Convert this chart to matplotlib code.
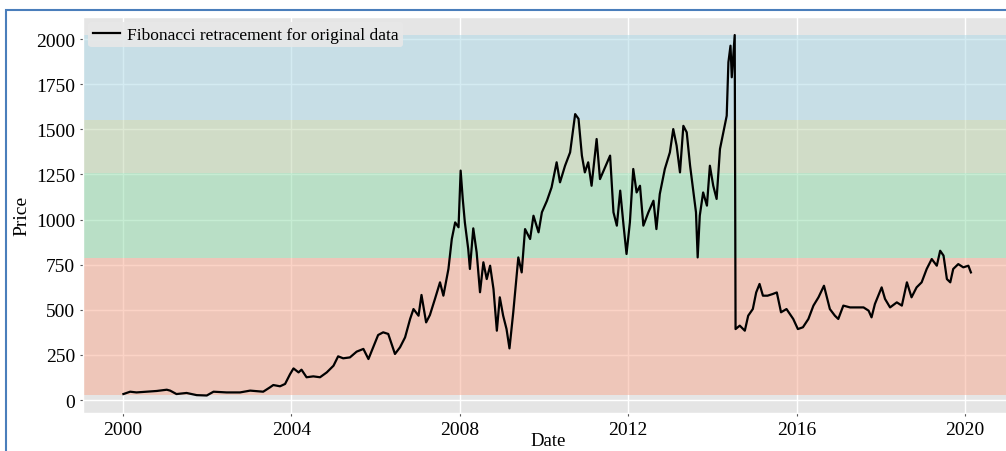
import matplotlib
matplotlib.use("Agg")
import matplotlib.pyplot as plt
from matplotlib.patches import Rectangle

# price (decimal year, price)
years = [
    2000.01, 2000.17, 2000.32, 2000.56, 2000.80, 2001.04, 2001.12, 2001.27, 2001.51, 2001.75,
    2001.99, 2002.15, 2002.46, 2002.78, 2003.02, 2003.33, 2003.49, 2003.57, 2003.73, 2003.85,
    2003.97, 2004.05, 2004.17, 2004.24, 2004.36, 2004.52, 2004.68, 2004.84, 2005.00, 2005.11,
    2005.23, 2005.39, 2005.55, 2005.71, 2005.83, 2005.95, 2006.06, 2006.18, 2006.30, 2006.46,
    2006.58, 2006.70, 2006.82, 2006.90, 2007.02, 2007.09, 2007.20, 2007.29, 2007.41, 2007.53,
    2007.61, 2007.73, 2007.81, 2007.89, 2007.97, 2008.02, 2008.07, 2008.12, 2008.20, 2008.24,
    2008.32, 2008.40, 2008.48, 2008.56, 2008.64, 2008.72, 2008.80, 2008.88, 2008.95, 2009.03,
    2009.11, 2009.18, 2009.27, 2009.39, 2009.47, 2009.55, 2009.67, 2009.75, 2009.87, 2009.95,
    2010.07, 2010.18, 2010.30, 2010.38, 2010.50, 2010.62, 2010.74, 2010.82, 2010.90, 2010.97,
    2011.05, 2011.13, 2011.25, 2011.33, 2011.45, 2011.57, 2011.65, 2011.73, 2011.81, 2011.89,
    2011.96, 2012.04, 2012.12, 2012.20, 2012.28, 2012.36, 2012.48, 2012.60, 2012.67, 2012.75,
    2012.87, 2012.99, 2013.07, 2013.15, 2013.23, 2013.31, 2013.39, 2013.47, 2013.55, 2013.61,
    2013.65, 2013.70, 2013.78, 2013.87, 2013.94, 2014.02, 2014.10, 2014.18, 2014.26, 2014.34,
    2014.38, 2014.43, 2014.46, 2014.50, 2014.53, 2014.55, 2014.65, 2014.77, 2014.85, 2014.96,
    2015.04, 2015.12, 2015.20, 2015.31, 2015.43, 2015.53, 2015.63, 2015.76, 2015.92, 2016.03,
    2016.15, 2016.28, 2016.40, 2016.52, 2016.65, 2016.71, 2016.79, 2016.91, 2016.99, 2017.11,
    2017.27, 2017.43, 2017.59, 2017.71, 2017.78, 2017.86, 2018.02, 2018.10, 2018.22, 2018.38,
    2018.50, 2018.62, 2018.73, 2018.85, 2018.97, 2019.09, 2019.21, 2019.33, 2019.41, 2019.49,
    2019.57, 2019.65, 2019.72, 2019.84, 2019.96, 2020.08, 2020.14,
]
prices = [
    33, 46, 42, 46, 50, 57, 52, 33, 39, 27,
    25, 46, 42, 42, 52, 46, 70, 83, 76, 89,
    144, 175, 153, 168, 126, 131, 126, 153, 190, 242,
    231, 236, 268, 283, 227, 297, 360, 375, 366, 255,
    292, 347, 449, 504, 467, 582, 430, 471, 560, 652,
    578, 726, 892, 984, 957, 1271, 1114, 984, 837, 726,
    951, 818, 597, 763, 670, 744, 615, 384, 569, 467,
    393, 286, 486, 790, 707, 947, 892, 1021, 929, 1040,
    1104, 1178, 1317, 1206, 1298, 1372, 1584, 1558, 1354, 1261,
    1317, 1187, 1446, 1224, 1289, 1354, 1040, 966, 1160, 966,
    809, 984, 1280, 1150, 1187, 966, 1040, 1104, 947, 1141,
    1280, 1372, 1501, 1409, 1261, 1519, 1483, 1298, 1150, 1040,
    790, 1021, 1150, 1077, 1298, 1187, 1114, 1391, 1483, 1575,
    1871, 1963, 1788, 1926, 2022, 393, 412, 384, 467, 504,
    596, 643, 578, 578, 587, 596, 486, 504, 449, 393,
    403, 449, 523, 569, 633, 578, 504, 467, 449, 523,
    513, 513, 513, 495, 458, 532, 624, 560, 513, 541,
    523, 652, 569, 624, 652, 726, 781, 744, 827, 800,
    670, 652, 726, 753, 735, 744, 707,
]
xtick_years = [2000, 2004, 2008, 2012, 2016, 2020]
ytick_values = [0, 250, 500, 750, 1000, 1250, 1500, 1750, 2000]

fib_ratios = [0, 0.236, 0.382, 0.5, 0.618, 1]
band_colors = ["#abd9e7", "#bdd4ab", "#8edba8", "#8edba8", "#f8a98f"]

plt.style.use("ggplot")
plt.rcParams["font.family"] = ["Liberation Serif", "DejaVu Serif"]

fig = plt.figure(figsize=(10.06, 4.52), dpi=100)
ax = fig.add_axes([83 / 1006, 38 / 452, 930 / 1006, 396 / 452])

hi, lo = max(prices), min(prices)
levels = [hi - r * (hi - lo) for r in fib_ratios]
for top, bottom, col in zip(levels[:-1], levels[1:], band_colors):
    ax.axhspan(bottom, top, color=col, alpha=0.5, lw=0, zorder=1)

ax.plot(years, prices, color="black", lw=1.6, zorder=3,
        label="Fibonacci retracement for original data")

ax.set_xlim(1999.05, 2021.14)
ax.set_ylim(-72, 2122)
ax.set_xticks(xtick_years)
ax.set_xticklabels([str(y) for y in xtick_years])
ax.set_yticks(ytick_values)
ax.tick_params(labelsize=14, colors="#555555", labelcolor="black", length=2)
ax.grid(True, color="white", lw=1.0, zorder=0)
ax.set_axisbelow(True)
ax.set_xlabel("Date", fontsize=13.5, color="black", labelpad=-4)
ax.set_ylabel("Price", fontsize=14, color="black", labelpad=4)

leg = ax.legend(loc="upper left", fontsize=12.5, frameon=True, facecolor="#e8e8e8",
                edgecolor="none", framealpha=0.9, borderaxespad=0.3,
                handlelength=1.6, handletextpad=0.4, borderpad=0.25)

# blue border of the source figure
fig.patches.append(Rectangle((6 / 1006, -0.2), 1.2, (441 / 452) + 0.2, transform=fig.transFigure,
                             fill=False, edgecolor="#4a7ebb", lw=1.5))

fig.savefig("out.png", dpi=100)
